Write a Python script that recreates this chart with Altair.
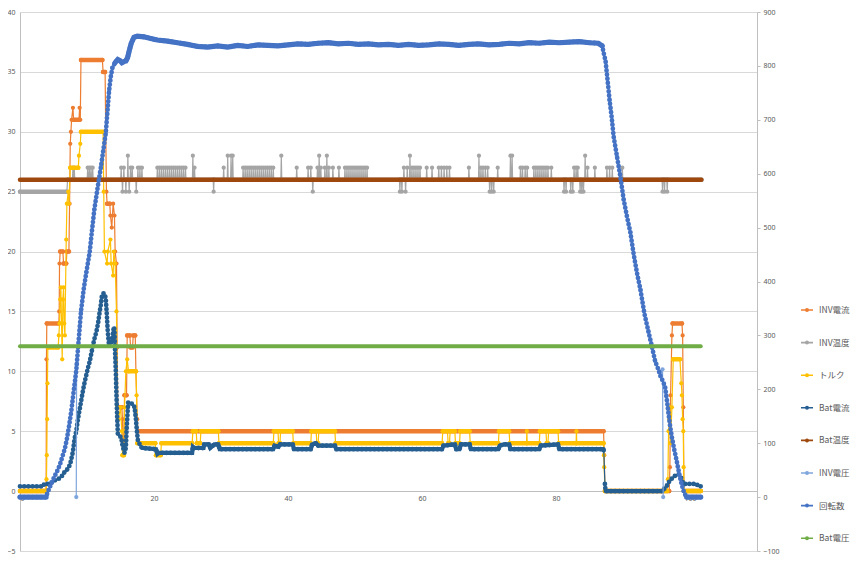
import altair as alt
import pandas as pd

SERIES = ["INV電流", "INV温度", "トルク", "Bat電流", "Bat温度", "INV電圧", "回転数", "Bat電圧"]
COLORS = ["#ED7D31", "#A5A5A5", "#FFC000", "#255E91", "#9E480E", "#7FA6DC", "#4472C4", "#70AD47"]

x_ticks = [0, 20, 40, 60, 80, 100]
left_ticks = [-5, 0, 5, 10, 15, 20, 25, 30, 35, 40]
right_ticks = [-100, 0, 100, 200, 300, 400, 500, 600, 700, 800, 900]

# INV電流 (left axis)
inv_cur_pts = [(0, 0), (3.9, 0), (3.95, 11), (4.0, 14), (5.8, 14), (5.85, 15), (5.9, 19), (6.0, 20),
               (6.4, 20), (6.5, 19), (6.9, 19), (7.0, 20), (7.3, 20), (7.4, 24), (7.5, 29), (7.6, 30),
               (7.7, 31), (7.9, 32), (8.0, 31), (8.8, 31), (8.9, 32), (9.0, 31), (9.1, 36), (12.3, 36),
               (12.4, 35), (12.7, 35), (12.8, 30), (12.9, 25), (13.0, 24), (13.4, 24), (13.5, 23),
               (13.7, 22), (13.9, 24), (14.1, 23), (14.2, 20), (14.4, 19), (14.5, 12), (14.6, 7),
               (15.2, 7), (15.3, 6), (15.4, 3), (15.5, 3), (15.6, 8), (15.9, 8), (16.0, 13), (16.4, 13),
               (16.5, 12), (16.8, 12), (16.9, 13), (17.2, 13), (17.3, 10), (17.5, 6), (17.6, 5),
               (87.1, 5), (87.2, 3), (87.3, 0), (96.9, 0), (97.0, 2), (97.1, 8), (97.3, 13), (97.4, 14),
               (98.8, 14), (98.9, 13), (99.0, 7), (99.1, 0), (101.6, 0)]

# INV温度 (left axis): 25 at start, then 26 with single-sample spikes
inv_temp_start = [(0, 25), (7.0, 25), (7.1, 26)]
inv_temp_end = [(101.7, 26)]
inv_temp_spike_x = [7.9, 8.1, 10.1, 10.35, 10.6, 10.85, 15.1, 15.3, 15.5, 15.8, 16.1, 16.3, 16.5, 16.75,
                    17.35, 17.6, 17.9, 18.2, 20.5, 20.8, 21.1, 21.4, 21.7, 22.0, 22.3, 22.6, 22.9, 23.2,
                    23.5, 23.8, 24.1, 24.4, 24.7, 25.8, 26.05, 28.9, 30.4, 31.0, 31.5, 31.75, 33.3, 33.6,
                    33.9, 34.2, 34.5, 34.8, 35.1, 35.4, 35.7, 36.0, 36.3, 36.6, 36.9, 37.2, 37.5, 37.8,
                    39.0, 41.3, 43.0, 43.4, 43.7, 44.4, 44.65, 44.9, 45.5, 45.8, 46.1, 46.7, 47.6, 48.5,
                    48.8, 49.1, 49.4, 49.7, 50.0, 50.3, 50.6, 50.9, 51.2, 51.5, 51.8, 56.7, 57.0, 57.3,
                    57.55, 57.8, 58.2, 58.5, 58.8, 59.1, 59.4, 59.7, 60.7, 61.5, 62.5, 62.9, 63.3, 63.7,
                    64.1, 67.0, 68.5, 68.8, 69.1, 69.45, 69.8, 70.1, 70.4, 70.7, 71.3, 73.2, 73.45, 74.7,
                    75.0, 75.4, 75.7, 76.7, 77.0, 77.3, 77.6, 77.9, 78.2, 78.5, 78.8, 79.3, 81.2, 81.5,
                    82.2, 82.5, 82.7, 83.0, 83.25, 83.6, 83.85, 84.1, 84.35, 84.7, 85.8, 87.6, 88.0, 88.4,
                    89.9, 95.9, 96.2, 96.6]
inv_temp_spike_y = [27, 27, 27, 27, 27, 27, 27, 25, 27, 25, 28, 25, 27, 27,
                    25, 27, 27, 27, 27, 27, 27, 27, 27, 27, 27, 27, 27, 27,
                    27, 27, 27, 27, 27, 28, 27, 25, 27, 28, 28, 28, 27, 27,
                    27, 27, 27, 27, 27, 27, 27, 27, 27, 27, 27, 27, 27, 27,
                    28, 27, 27, 27, 25, 27, 28, 27, 27, 28, 27, 27, 27, 27,
                    27, 27, 27, 27, 27, 27, 27, 27, 27, 27, 27, 25, 25, 27,
                    25, 27, 28, 27, 27, 27, 27, 27, 27, 27, 27, 27, 27, 27,
                    27, 27, 28, 27, 27, 27, 27, 25, 25, 25, 27, 28, 28, 27,
                    27, 27, 27, 27, 27, 27, 27, 27, 27, 27, 27, 27, 25, 25,
                    25, 25, 27, 27, 27, 25, 25, 25, 28, 27, 27, 27, 27, 27,
                    27, 25, 25, 25]

# トルク (left axis)
torque_pts = [(0, 0), (3.9, 0), (3.95, 1), (4.0, 3), (4.05, 6), (4.1, 9), (4.15, 12), (5.7, 12),
              (5.8, 13), (5.9, 14), (6.0, 16), (6.1, 17), (6.2, 14), (6.3, 11), (6.4, 16), (6.5, 17),
              (6.6, 14), (6.7, 13), (6.9, 21), (7.0, 24), (7.2, 25), (7.3, 24), (7.5, 27), (8.7, 27),
              (8.8, 28), (9.0, 29), (9.1, 30), (12.4, 30), (12.5, 25), (12.6, 20), (13.0, 19), (13.1, 20),
              (13.5, 21), (13.6, 19), (13.9, 18), (14.0, 20), (14.2, 19), (14.4, 15), (14.5, 7), (14.7, 6),
              (15.0, 7), (15.2, 5), (15.3, 3), (15.5, 3), (15.6, 7), (15.8, 10), (16.0, 11), (16.2, 10),
              (17.3, 10), (17.4, 8), (17.5, 4), (20.2, 4), (20.3, 3), (21.0, 3), (21.1, 4), (25.7, 4),
              (25.8, 5), (26.3, 5), (26.4, 4), (26.9, 4), (27.0, 5), (29.6, 5), (29.7, 4), (37.8, 4),
              (37.9, 5), (38.5, 5), (38.6, 4), (38.8, 4), (38.9, 5), (40.7, 5), (40.8, 4), (43.4, 4),
              (43.5, 5), (44.2, 5), (44.3, 4), (44.5, 4), (44.6, 5), (47.0, 5), (47.1, 4), (63.0, 4),
              (63.1, 5), (63.8, 5), (63.9, 4), (64.1, 4), (64.2, 5), (64.9, 5), (65.0, 4), (65.6, 4),
              (65.7, 5), (67.1, 5), (67.2, 4), (71.4, 4), (71.5, 5), (73.0, 5), (73.1, 4), (75.6, 4),
              (75.65, 5), (75.7, 4), (77.5, 4), (77.6, 5), (78.5, 5), (78.6, 4), (78.8, 4), (78.9, 5),
              (80.3, 5), (80.4, 4), (83.0, 4), (83.05, 5), (83.1, 4), (87.1, 4), (87.15, 3), (87.2, 2),
              (87.3, 0), (96.6, 0), (96.7, 1), (96.8, 5), (96.9, 6), (97.0, 7), (97.1, 4), (97.3, 7),
              (97.5, 11), (98.5, 11), (98.7, 9), (98.8, 8), (98.9, 6), (99.0, 5), (99.05, 2), (99.1, 0),
              (101.6, 0)]

# Bat電流 (left axis)
bat_cur_pts = [(0, 0.4), (3.5, 0.4), (3.6, 0.6), (4.2, 0.6), (4.7, 0.7), (5.2, 0.9), (5.7, 1.0), (6.2, 1.2),
               (6.5, 1.5), (6.9, 1.7), (7.3, 2.0), (7.6, 2.5), (7.9, 3.3), (8.15, 4.4), (8.4, 5.0),
               (8.65, 6.0), (8.9, 6.8), (9.15, 7.6), (9.4, 8.4), (9.65, 9.1), (9.9, 9.7), (10.15, 10.3),
               (10.4, 10.8), (10.65, 11.5), (10.9, 12.2), (11.15, 12.8), (11.4, 13.3), (11.65, 14.0),
               (11.85, 14.8), (12.05, 15.5), (12.2, 16.2), (12.4, 16.5), (12.6, 16.5), (12.8, 16.1),
               (12.95, 14.8), (13.1, 13.3), (13.3, 12.1), (13.55, 12.3), (13.8, 12.8), (14.0, 13.7),
               (14.1, 13.5), (14.2, 11.5), (14.3, 10.0), (14.45, 7.0), (14.6, 4.8), (14.8, 4.6),
               (15.1, 4.5), (15.3, 3.8), (15.5, 3.4), (15.6, 3.2), (15.8, 3.6), (15.9, 5.0), (16.0, 6.0),
               (16.15, 7.4), (16.4, 7.3), (16.8, 7.3), (17.1, 7.0), (17.3, 6.0), (17.45, 5.0), (17.6, 4.2),
               (17.8, 4.0), (18.0, 3.7), (18.3, 3.6), (20.3, 3.5), (20.5, 3.1), (20.7, 3.2), (25.7, 3.2),
               (25.8, 3.7), (26.0, 3.6), (27.4, 3.6), (27.5, 3.9), (28.2, 3.9), (28.4, 3.6), (29.0, 3.9),
               (29.6, 3.9), (29.8, 3.5), (37.8, 3.5), (38.0, 3.8), (38.6, 3.7), (38.8, 3.9), (40.7, 3.9),
               (40.9, 3.5), (43.4, 3.5), (43.6, 3.9), (44.2, 4.0), (44.5, 3.8), (47.0, 3.8), (47.2, 3.5),
               (63.0, 3.5), (63.2, 3.8), (64.9, 3.9), (65.1, 3.5), (65.6, 3.5), (65.8, 3.9), (67.1, 3.9),
               (67.3, 3.5), (71.4, 3.5), (71.6, 3.8), (72.2, 3.9), (73.0, 3.9), (73.2, 3.5), (77.5, 3.5),
               (77.7, 3.8), (80.3, 3.9), (80.5, 3.5), (87.1, 3.5), (87.15, 3.1), (87.3, 0.6), (87.4, 0),
               (95.9, 0), (96.0, 0.1), (96.5, 0.4), (97.0, 0.9), (97.4, 1.1), (97.8, 1.3), (98.3, 1.4),
               (98.6, 1.2), (98.8, 0.9), (99.0, 0.6), (101.0, 0.6), (101.2, 0.4), (101.6, 0.4)]
bat_cur_break = 87.2              # sudden drop: no dot chain across it
bat_cur_dense = [(18.3, 87.1), (87.4, 95.9)]   # stretches where samples merge into a solid band

# Bat温度 / Bat電圧 (left axis)
bat_temp_pts = [(0, 26), (101.7, 26)]
bat_volt_pts = [(0, 12.1), (101.6, 12.1)]

# 回転数 (right axis)
rpm_pts = [(0, 0), (3.9, 0), (4.1, 8), (4.4, 17), (4.7, 26), (5.0, 34), (5.3, 42), (5.7, 52), (6.0, 62),
           (6.3, 74), (6.7, 90), (7.0, 108), (7.3, 130), (7.66, 160), (8.0, 195), (8.4, 235), (8.75, 290),
           (9.1, 344), (9.5, 385), (9.9, 417), (10.4, 454), (10.75, 495), (11.1, 534), (11.6, 575),
           (12.1, 614), (12.45, 645), (12.8, 675), (13.05, 715), (13.3, 754), (13.55, 780), (13.8, 797),
           (14.2, 806), (14.6, 812), (14.9, 810), (15.2, 806), (15.5, 808), (15.8, 809), (16.05, 815),
           (16.3, 828), (16.6, 842), (17.0, 853), (17.5, 855), (18.5, 854), (19.5, 851), (20.5, 848),
           (22, 846), (23.5, 843), (25, 840), (26.5, 836), (28, 835), (29.5, 837), (31, 835), (32.5, 838),
           (34, 836), (35.5, 839), (37, 838), (38.5, 837), (40, 839), (41.5, 841), (43, 840), (44.5, 842),
           (46, 843), (47.5, 841), (49, 842), (50.5, 840), (52, 841), (53.5, 839), (55, 840), (56.5, 838),
           (58, 840), (59.5, 838), (61, 839), (62.5, 841), (64, 840), (65.5, 838), (67, 840), (68.5, 841),
           (70, 839), (71.5, 840), (73, 842), (74.5, 841), (76, 843), (77.5, 842), (79, 844), (80.5, 843),
           (82, 844), (83.5, 845), (85, 843), (86.3, 842), (86.9, 837), (87.15, 822), (87.4, 809),
           (87.7, 773), (88.0, 736), (88.3, 706), (88.6, 669), (89.1, 632), (89.6, 595), (90.1, 552),
           (90.6, 520), (91.1, 491), (91.6, 450), (92.1, 415), (92.6, 385), (93.2, 340), (93.8, 307),
           (94.3, 280), (94.8, 252), (95.3, 236), (95.6, 224), (96.0, 214), (96.3, 203), (96.6, 175),
           (96.8, 154), (97.05, 130), (97.3, 111), (97.65, 88), (98.0, 68), (98.25, 52), (98.5, 37),
           (98.75, 24), (99.0, 13), (99.25, 5), (99.5, 0), (101.6, 0)]
rpm_dense = [(0, 3.9), (14.2, 86.9), (99.5, 101.6)]

# INV電圧 (right axis)
inv_volt_pts = [(8.4, 0), (8.45, 245), (9.1, 344), (9.9, 417), (11.1, 534), (12.1, 614), (12.8, 675),
                (13.3, 754), (13.8, 797), (14.6, 812), (15.8, 809), (17.0, 853), (20, 848), (30, 836),
                (40, 839), (50, 840), (60, 839), (70, 839), (80, 843), (86.3, 842), (86.9, 837),
                (87.4, 809), (88.0, 736), (89.1, 632), (90.1, 552), (91.1, 491), (92.6, 385),
                (93.8, 307), (94.8, 252), (95.6, 230), (95.9, 237), (96.0, 0)]


def frame(pts, name):
    return pd.DataFrame({"x": [p[0] for p in pts], "y": [p[1] for p in pts], "s": name})


def temp_frame():
    pts = list(inv_temp_start)
    for sx, sy in zip(inv_temp_spike_x, inv_temp_spike_y):
        pts += [(sx - 0.07, 26), (sx, sy), (sx + 0.07, 26)]
    pts += inv_temp_end
    return frame(pts, "INV温度")


def segments(df):
    d = df.sort_values("x").reset_index(drop=True)
    d["x2"] = d["x"].shift(-1)
    d["y2"] = d["y"].shift(-1)
    return d[(d["y"] == d["y2"]) & ((d["x2"] - d["x"]) > 0.12)].drop(columns=["y2"])


def dense_part(df, spans):
    parts = []
    for i, (a, b) in enumerate(spans):
        p = df[(df["x"] >= a) & (df["x"] <= b)].copy()
        p["run"] = str(i)
        parts.append(p)
    return pd.concat(parts, ignore_index=True)


color_scale = alt.Scale(domain=SERIES, range=COLORS)
# mark-only channels use the same colours, listed in another order so their (hidden) legends stay apart
mark_scale = alt.Scale(domain=SERIES[::-1], range=COLORS[::-1])
LEG_PATH = "M-1,0L1,0M-0.2,0A0.2,0.2,0,1,1,0.2,0A0.2,0.2,0,1,1,-0.2,0"
legend = alt.Legend(title=None, orient="none", legendX=780, legendY=291, symbolType=LEG_PATH,
                    symbolSize=144, symbolStrokeWidth=1.6, labelFont="Noto Sans CJK JP",
                    labelFontSize=8.5, labelColor="#595959", rowPadding=20.6, labelOffset=5, padding=0)


def color():
    return alt.Color("s:N", scale=color_scale, legend=legend)


def stroke():
    return alt.Stroke("s:N", scale=mark_scale, legend=None)


def fill():
    return alt.Fill("s:N", scale=mark_scale, legend=None)


xenc = alt.X("x:Q", scale=alt.Scale(domain=[0, 110], nice=False, zero=False),
             axis=alt.Axis(values=x_ticks, orient="bottom", offset=-60, grid=False, ticks=False,
                           domainColor="#BFBFBF", labelFontSize=7, labelColor="#595959",
                           labelPadding=3, title=None, labelFont="Noto Sans"))
left_scale = alt.Scale(domain=[-5, 40], nice=False, zero=False)
y_left = alt.Y("y:Q", scale=left_scale,
               axis=alt.Axis(values=left_ticks, grid=True, gridColor="#D9D9D9", domainColor="#BFBFBF",
                             ticks=False, labelFontSize=7, labelColor="#595959", labelPadding=5,
                             title=None, labelFont="Noto Sans"))
y_left2 = alt.Y("y:Q", scale=left_scale, axis=None)
y_right = alt.Y("y:Q", scale=alt.Scale(domain=[-100, 900], nice=False, zero=False),
                axis=alt.Axis(values=right_ticks, orient="right", grid=False, domainColor="#BFBFBF",
                              tickColor="#BFBFBF", tickSize=3, labelFontSize=7, labelColor="#595959",
                              labelPadding=3, title=None, labelFont="Noto Sans"))


def step_layers(df, yenc, with_flat=True):
    out = []
    if with_flat:
        out.append(alt.Chart(segments(df)).mark_rule(strokeWidth=4.5, strokeCap="round").encode(
            x=xenc, x2="x2:Q", y=yenc, stroke=stroke()))
    out.append(alt.Chart(df).mark_line(strokeWidth=1.2).encode(x=xenc, y=yenc, color=color()))
    out.append(alt.Chart(df).mark_circle(size=18, opacity=1).encode(x=xenc, y=yenc, fill=fill()))
    return out


def chain_layers(df, yenc, dense_spans, detail=None, core=4.2):
    enc = dict(x=xenc, y=yenc, stroke=stroke())
    if detail is not None:
        enc["detail"] = alt.Detail(detail + ":N")
    dense = dense_part(df, dense_spans)
    return [
        alt.Chart(df).mark_line(strokeWidth=1.2).encode(x=xenc, y=yenc, color=color()),
        alt.Chart(dense).mark_line(strokeWidth=core, strokeCap="round").encode(
            x=xenc, y=yenc, stroke=stroke(), detail="run:N"),
        alt.Chart(df).mark_line(strokeWidth=4.8, strokeDash=[0, 4.2], strokeCap="round").encode(**enc),
    ]


def thick_layer(df, yenc, w):
    return alt.Chart(df).mark_line(strokeWidth=w, strokeCap="round").encode(
        x=xenc, y=yenc, color=color())


bat_cur = frame(bat_cur_pts, "Bat電流")
bat_cur["grp"] = (bat_cur["x"] > bat_cur_break).map({False: "a", True: "b"})

left1 = alt.layer(
    *step_layers(frame(inv_cur_pts, "INV電流"), y_left),
    *step_layers(temp_frame(), y_left),
    *step_layers(frame(torque_pts, "トルク"), y_left),
    *chain_layers(bat_cur, y_left, bat_cur_dense, detail="grp"),
    thick_layer(frame(bat_temp_pts, "Bat温度"), y_left, 4.5),
)
right = alt.layer(
    *step_layers(frame(inv_volt_pts, "INV電圧"), y_right, with_flat=False),
    *chain_layers(frame(rpm_pts, "回転数"), y_right, rpm_dense, core=5.2),
)
left2 = alt.layer(thick_layer(frame(bat_volt_pts, "Bat電圧"), y_left2, 4))

chart = alt.layer(left1, right, left2).resolve_scale(y="independent").properties(
    width=737, height=539, autosize="none",
    padding={"left": 12, "top": 4, "right": 95, "bottom": 5},
).configure_view(stroke=None)

chart.save("out.html", embed_options={"renderer": "svg", "actions": False})
